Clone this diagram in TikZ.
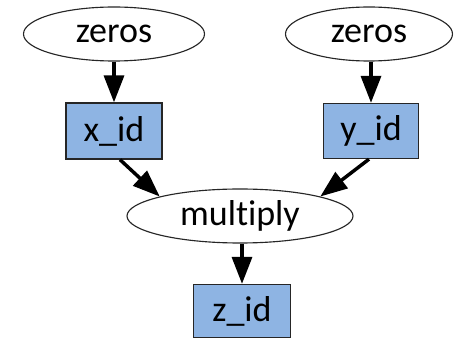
\documentclass[tikz,border=0pt]{standalone}
\usepackage{fontspec}
\setmainfont{Carlito}[Ligatures={NoCommon}]
\usetikzlibrary{shapes.geometric,arrows.meta}
\definecolor{boxblue}{HTML}{8EB4E3}
\tikzset{
  op/.style={ellipse, draw=black!85, line width=0.85pt, fill=white, inner sep=0pt},
  var/.style={rectangle, draw=black!85, line width=1pt, fill=boxblue, inner sep=0pt},
  flow/.style={line width=2.6pt, -{Triangle[length=20.25pt,width=15pt]}},
  lbl/.style={font=\fontsize{27}{31}\selectfont}
}
\begin{document}
\begin{tikzpicture}[x=0.75pt,y=-0.75pt]
  \useasboundingbox (0,0) rectangle (454,338);
  % operation nodes
  \node[op, lbl, minimum width=135.75pt, minimum height=40.5pt] (zl) at (114,34) {zeros};
  \node[op, lbl, minimum width=125.25pt, minimum height=40.5pt] (zr) at (369,34) {zeros};
  \node[op, lbl, minimum width=169.5pt, minimum height=40.5pt] (mul) at (240,216) {multiply};
  % variable nodes
  \node[var, lbl, minimum width=72pt, minimum height=42pt] (x) at (114,131) {x\_id};
  \node[var, lbl, minimum width=71.25pt, minimum height=41.25pt] (y) at (371,131) {y\_id};
  \node[var, lbl, minimum width=72.75pt, minimum height=39.75pt] (z) at (242,311) {z\_id};
  % data flow
  \draw[flow] (zl.south) -- (x.north);
  \draw[flow] (zr.south -| y.north) -- (y.north);
  \draw[flow] ([xshift=4.5pt]x.south) -- (mul.north west);
  \draw[flow] ([xshift=-1.5pt]y.south) -- (mul.north east);
  \draw[flow] (mul.south -| z.north) -- (z.north);
\end{tikzpicture}
\end{document}
